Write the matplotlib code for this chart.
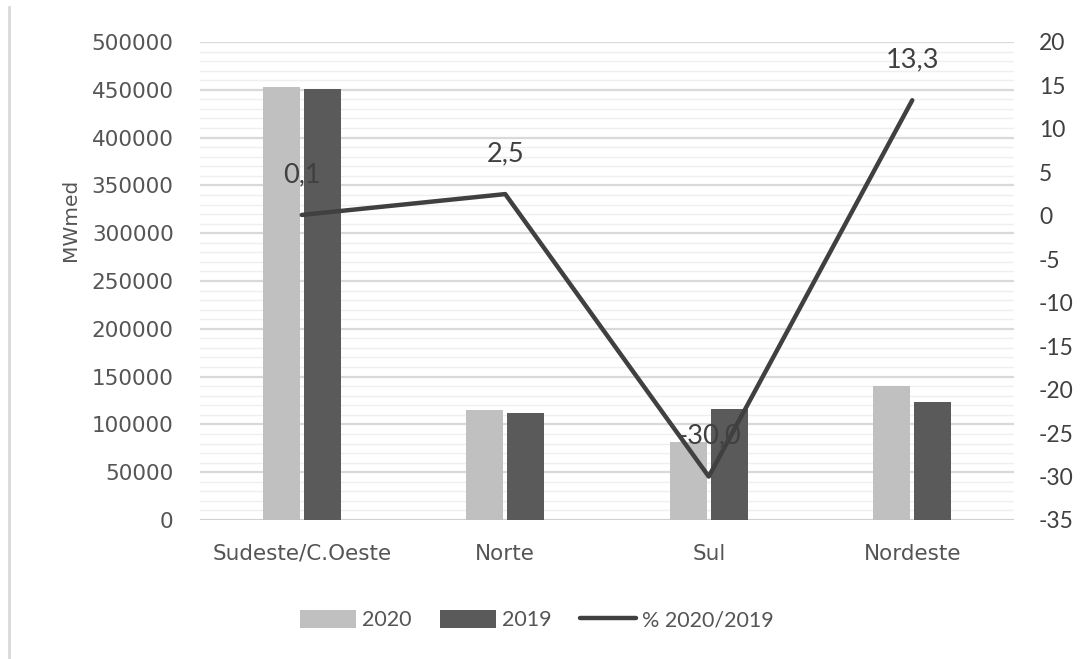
import matplotlib
matplotlib.use("Agg")
import matplotlib.pyplot as plt
from matplotlib.lines import Line2D
from matplotlib.patches import Patch
from matplotlib.ticker import MultipleLocator
import numpy as np

# Data
regions = ["Sudeste/C.Oeste", "Norte", "Sul", "Nordeste"]
load_2020 = [453000, 115000, 81500, 140500]
load_2019 = [450500, 111500, 116000, 123500]
pct_change = [0.1, 2.5, -30.0, 13.3]
pct_labels = ["0,1", "2,5", "-30,0", "13,3"]

left_ticks = list(range(0, 500001, 50000))
right_ticks = list(range(-35, 21, 5))

W, H, DPI = 1086, 659, 100
fig = plt.figure(figsize=(W / DPI, H / DPI), dpi=DPI)
fig.patch.set_facecolor("white")

ax = fig.add_axes([200 / W, 1 - 520 / H, (1014 - 200) / W, (520 - 42) / H])
ax2 = ax.twinx()

x = np.arange(len(regions))
bw = 0.182
off = 0.1007
c_light = "#c0c0c0"
c_dark = "#5a5a5a"
c_line = "#404040"
c_text = "#555555"
narrow = ["Lato", "DejaVu Sans"]

ax.bar(x - off, load_2020, width=bw, color=c_light, zorder=3)
ax.bar(x + off, load_2019, width=bw, color=c_dark, zorder=3)

ax.set_xlim(-0.5, 3.5)
ax.set_ylim(0, 500000)
ax.set_yticks(left_ticks)
ax.set_yticklabels([str(v) for v in left_ticks])
ax.yaxis.set_minor_locator(MultipleLocator(10000))
ax.grid(axis="y", which="major", color="#d9d9d9", lw=1.6, zorder=0)
ax.grid(axis="y", which="minor", color="#efefef", lw=1.0, zorder=0)
ax.set_axisbelow(True)
ax.axhline(0, color="#d0d0d0", lw=2, zorder=2)

for s in ax.spines.values():
    s.set_visible(False)
for s in ax2.spines.values():
    s.set_visible(False)

ax.tick_params(axis="both", which="both", length=0)
ax.tick_params(axis="y", pad=19, labelsize=15.5, labelcolor=c_text)
ax.set_xticks(x)
ax.set_xticklabels(regions, fontsize=15.5, color=c_text)
ax.tick_params(axis="x", pad=17)
for lab in ax.get_yticklabels() + ax.get_xticklabels():
    lab.set_fontfamily("DejaVu Sans")

# Percentage line on the secondary axis
ax2.set_ylim(-35, 20)
ax2.set_yticks(right_ticks)
ax2.set_yticklabels([str(v) for v in right_ticks], fontsize=16.5, color=c_line,
                    family=narrow)
ax2.tick_params(axis="y", length=0, pad=18)
ax2.plot(x, pct_change, color=c_line, lw=3.2, solid_capstyle="round", zorder=5)
for xi, yi, lab in zip(x, pct_change, pct_labels):
    ax2.annotate(lab, (xi, yi), xytext=(0, 29), textcoords="offset points",
                 ha="center", va="center", fontsize=19.5, color=c_line,
                 family=narrow, zorder=4)

fig.text(70 / W, 1 - 220 / H, "MWmed", rotation=90, ha="center", va="center",
         fontsize=14.5, color=c_text, family="DejaVu Sans")

# Legend
handles = [Patch(facecolor=c_light, edgecolor="none"),
           Patch(facecolor=c_dark, edgecolor="none"),
           Line2D([0], [0], color=c_line, lw=3.2, solid_capstyle="round")]
leg = fig.legend(handles, ["2020", "2019", "% 2020/2019"], loc="center",
                 bbox_to_anchor=(537 / W, 1 - 620 / H), ncol=3, frameon=False,
                 handlelength=2.6, handleheight=0.9, handletextpad=0.3,
                 columnspacing=1.3, prop={"family": narrow, "size": 15.5})
for t in leg.get_texts():
    t.set_color(c_text)

# Outer frame edge
fig.add_artist(Line2D([9 / W, 9 / W], [0, 1 - 7 / H], transform=fig.transFigure,
                      color="#d9d9d9", lw=2))

fig.savefig("out.png", dpi=DPI, facecolor="white")
